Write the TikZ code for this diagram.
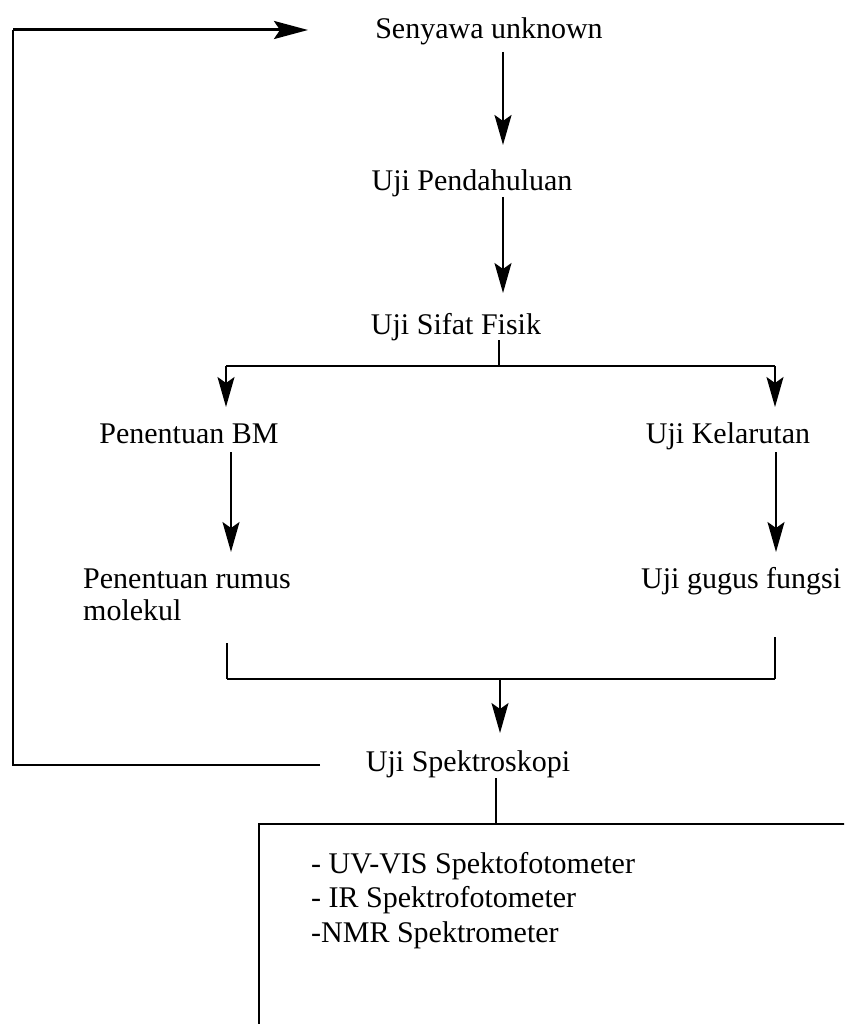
\documentclass[tikz,border=0pt]{standalone}
\usepackage{fontspec}
\setmainfont{Liberation Serif}
\usetikzlibrary{arrows.meta}
\begin{document}
\begin{tikzpicture}[x=1pt,y=-1pt,
  lbl/.style={inner sep=0pt,anchor=base,font=\fontsize{30}{32}\selectfont},
  ln/.style={line width=1.6pt},
  arr/.style={line width=1.6pt,-{Stealth[length=30pt,width=17pt,inset=6pt]}}]
\useasboundingbox (0,0) rectangle (844,1024);
\node[lbl] (senyawa) at (489,39) {Senyawa unknown};
\node[lbl] (pend) at (472,191) {Uji Pendahuluan};
\node[lbl] (sifat) at (456,334) {Uji Sifat Fisik};
\node[lbl] (bm) at (189,443) {Penentuan BM};
\node[lbl] (kel) at (728,443) {Uji Kelarutan};
\node[lbl,anchor=base west] (rumus) at (83,588) {Penentuan rumus};
\node[lbl,anchor=base west] (molekul) at (83,620) {molekul};
\node[lbl,anchor=base west] (gugus) at (641,588) {Uji gugus fungsi};
\node[lbl] (spek) at (468,771) {Uji Spektroskopi};
% arrows chain
\coordinate (a1s) at (503,52);
\coordinate (a1e) at (503,145);
\draw[arr,line width=2.4pt] (a1s) -- (a1e);
\coordinate (a2s) at (503,197);
\coordinate (a2e) at (503,293);
\draw[arr] (a2s) -- (a2e);
% branch
\coordinate (bs) at (499,340);
\coordinate (bj) at (499,366);
\coordinate (bl) at (226,366);
\coordinate (br) at (775,366);
\draw[ln] (bs) -- (bj);
\draw[ln,line width=2pt] (bl) -- (br);
\coordinate (ble) at (226,407);
\coordinate (bre) at (775,407);
\draw[arr] (bl) -- (ble);
\draw[arr] (br) -- (bre);
% second level
\coordinate (c1s) at (231,452);
\coordinate (c1e) at (231,552);
\coordinate (c2s) at (776,452);
\coordinate (c2e) at (776,552);
\draw[arr] (c1s) -- (c1e);
\draw[arr] (c2s) -- (c2e);
% merge
\coordinate (ml) at (227,643);
\coordinate (mlb) at (227,679);
\coordinate (mr) at (775,637);
\coordinate (mrb) at (775,679);
\draw[ln] (ml) -- (mlb);
\draw[ln] (mr) -- (mrb);
\draw[ln,line width=2pt] (mlb) -- (mrb);
\coordinate (mj) at (500,679);
\coordinate (mje) at (500,733);
\draw[arr] (mj) -- (mje);
% feedback loop
\coordinate (fl0) at (320,765);
\coordinate (fl1) at (13,765);
\coordinate (fl2) at (13,30);
\coordinate (fl3) at (308,30);
\draw[line width=2pt] (fl0) -- (fl1) -- (fl2);
\draw[line width=3pt,-{Stealth[length=34pt,width=18pt,inset=6pt]}] (fl2) -- (fl3);
% box
\coordinate (ds) at (496,778);
\coordinate (dt) at (496,824);
\draw[ln] (ds) -- (dt);
\begin{scope}
\clip (0,0) rectangle (844,1024);
\draw[line width=2.6pt] (860,824) -- (259,824) -- (259,1040);
\end{scope}
\node[lbl,anchor=base west] (t1) at (311,873) {- UV-VIS Spektofotometer};
\node[lbl,anchor=base west] (t2) at (311,907) {- IR Spektrofotometer};
\node[lbl,anchor=base west] (t3) at (311,942) {-NMR Spektrometer};
\end{tikzpicture}
\end{document}
